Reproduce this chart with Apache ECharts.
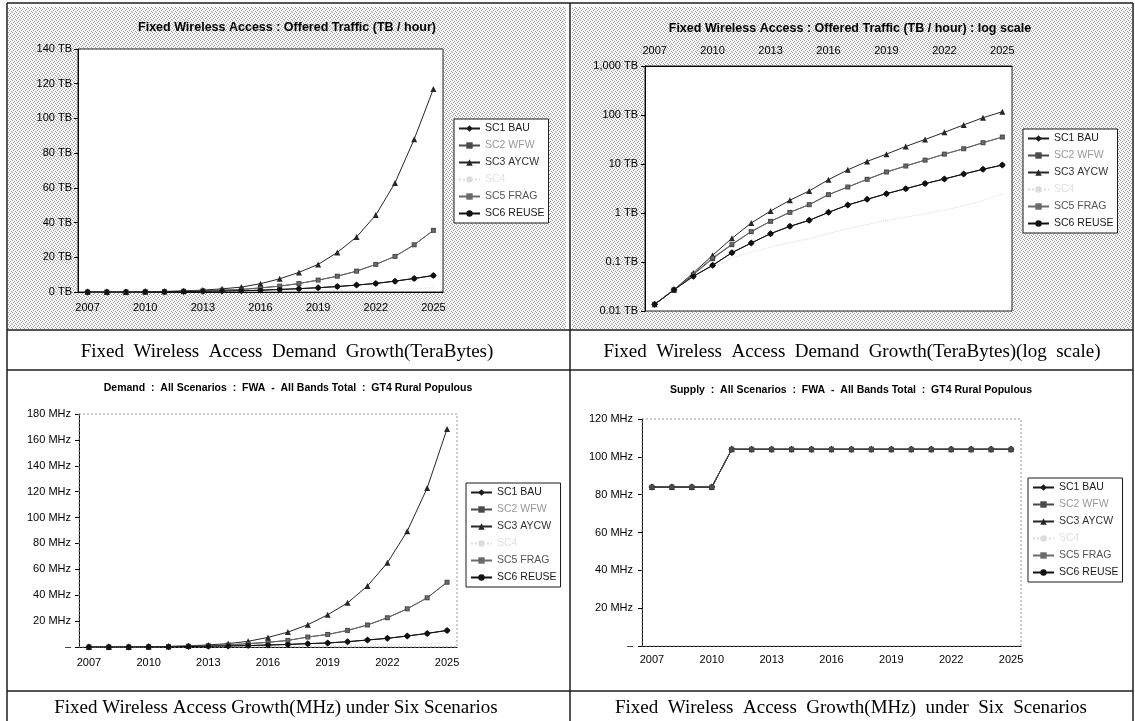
<!DOCTYPE html>
<html>
<head>
<meta charset="utf-8">
<script src="https://cdn.jsdelivr.net/npm/echarts@6/dist/echarts.min.js"></script>
<style>
  html, body { margin: 0; padding: 0; background: #fff; }
  #main { width: 1135px; height: 721px; }
</style>
</head>
<body>
<div id="main"></div>
<script>
// categories
var years = ['2007', '2008', '2009', '2010', '2011', '2012', '2013', '2014', '2015', '2016',
  '2017', '2018', '2019', '2020', '2021', '2022', '2023', '2024', '2025'];
var scenarios = ['SC1 BAU', 'SC2 WFW', 'SC3 AYCW', 'SC4', 'SC5 FRAG', 'SC6 REUSE'];

// offered traffic, TB / hour (top charts, linear and log)
var tbBAU   = [0.0137, 0.027, 0.051, 0.0855, 0.155, 0.244, 0.379, 0.535, 0.708, 1.03, 1.46, 1.9, 2.48, 3.14, 3.98, 4.95, 6.25, 7.8, 9.5];
var tbWFW   = [0.0137, 0.027, 0.055, 0.117, 0.226, 0.416, 0.676, 1.03, 1.48, 2.37, 3.39, 4.87, 6.87, 9.1, 12.0, 15.9, 20.5, 27.2, 35.5];
var tbAYCW  = [0.0137, 0.0272, 0.0597, 0.137, 0.304, 0.625, 1.10, 1.82, 2.82, 4.79, 7.6, 11.3, 15.9, 22.8, 31.7, 44.3, 62.8, 88, 117];
var tbSC4   = [0.0137, 0.027, 0.05, 0.08, 0.12, 0.16, 0.2, 0.25, 0.3, 0.38, 0.48, 0.58, 0.7, 0.82, 0.97, 1.15, 1.4, 1.8, 2.5];
var tbFRAG  = [0.0137, 0.027, 0.057, 0.122, 0.23, 0.42, 0.68, 1.03, 1.48, 2.37, 3.39, 4.87, 6.87, 9.1, 12.0, 15.9, 20.5, 27.2, 35.5];
var tbREUSE = [0.0137, 0.027, 0.051, 0.0855, 0.155, 0.244, 0.379, 0.535, 0.708, 1.03, 1.46, 1.9, 2.48, 3.14, 3.98, 4.95, 6.25, 7.8, 9.5];

// demand, MHz
var dmBAU   = [0.02, 0.04, 0.07, 0.12, 0.22, 0.35, 0.55, 0.8, 1.1, 1.5, 2.0, 2.6, 3.1, 4.1, 5.4, 6.7, 8.5, 10.5, 12.8];
var dmWFW   = [0.02, 0.04, 0.08, 0.17, 0.33, 0.6, 1.0, 1.6, 2.6, 3.6, 5.1, 7.7, 9.7, 12.8, 17, 22.6, 29.5, 38, 50];
var dmAYCW  = [0.02, 0.04, 0.09, 0.2, 0.45, 0.9, 1.6, 2.6, 4.4, 7.4, 11.5, 17.2, 24.9, 34.1, 47.2, 65, 89.5, 122.8, 168.5];
var dmSC4   = [0.02, 0.04, 0.06, 0.1, 0.15, 0.2, 0.3, 0.4, 0.5, 0.6, 0.75, 0.9, 1.0, 1.2, 1.4, 1.6, 1.9, 2.3, 3.3];
var dmFRAG  = [0.02, 0.04, 0.08, 0.17, 0.33, 0.6, 1.0, 1.6, 2.6, 3.6, 5.1, 7.7, 9.7, 12.8, 17, 22.6, 29.5, 38, 50];
var dmREUSE = [0.02, 0.04, 0.07, 0.12, 0.22, 0.35, 0.55, 0.8, 1.1, 1.5, 2.0, 2.6, 3.1, 4.1, 5.4, 6.7, 8.5, 10.5, 12.8];

// supply, MHz
var spBAU   = [84, 84, 84, 84, 104, 104, 104, 104, 104, 104, 104, 104, 104, 104, 104, 104, 104, 104, 104];
var spWFW   = [84, 84, 84, 84, 104, 104, 104, 104, 104, 104, 104, 104, 104, 104, 104, 104, 104, 104, 104];
var spAYCW  = [84, 84, 84, 84, 104, 104, 104, 104, 104, 104, 104, 104, 104, 104, 104, 104, 104, 104, 104];
var spSC4   = [84, 84, 84, 84, 104, 104, 104, 104, 104, 104, 104, 104, 104, 104, 104, 104, 104, 104, 104];
var spFRAG  = [84, 84, 84, 84, 104, 104, 104, 104, 104, 104, 104, 104, 104, 104, 104, 104, 104, 104, 104];
var spREUSE = [84, 84, 84, 84, 104, 104, 104, 104, 104, 104, 104, 104, 104, 104, 104, 104, 104, 104, 104];

var chart = echarts.init(document.getElementById('main'));

// stippled chart area fill, like the scanned Excel pattern
var dots = document.createElement('canvas');
dots.width = 4; dots.height = 4;
var g = dots.getContext('2d');
g.fillStyle = '#f5f5f5'; g.fillRect(0, 0, 4, 4);
g.fillStyle = '#9c9c9c';
g.fillRect(0, 0, 1, 1); g.fillRect(2, 1, 1, 1); g.fillRect(3, 3, 1, 1); g.fillRect(1, 2, 1, 1);
var dotFill = { image: dots, repeat: 'repeat' };

var sans = 'Liberation Sans';
var serif = 'Liberation Serif';

var look = {
  'SC1 BAU':   { line: '#1a1a1a', symbol: 'diamond',  size: 7, text: '#1a1a1a' },
  'SC2 WFW':   { line: '#4a4a4a', symbol: 'rect',     size: 5, text: '#9a9a9a' },
  'SC3 AYCW':  { line: '#262626', symbol: 'triangle', size: 6, text: '#333' },
  'SC4':       { line: '#dcdcdc', symbol: 'none',     size: 0, text: '#e2e2e2', dash: 'dotted' },
  'SC5 FRAG':  { line: '#6a6a6a', symbol: 'rect',     size: 3, text: '#555' },
  'SC6 REUSE': { line: '#111',    symbol: 'circle',   size: 5, text: '#1a1a1a' }
};

var panelData = [
  [tbBAU, tbWFW, tbAYCW, tbSC4, tbFRAG, tbREUSE],
  [tbBAU, tbWFW, tbAYCW, tbSC4, tbFRAG, tbREUSE],
  [dmBAU, dmWFW, dmAYCW, dmSC4, dmFRAG, dmREUSE],
  [spBAU, spWFW, spAYCW, spSC4, spFRAG, spREUSE]
];

var grids = [
  { left: 78,  top: 49,  width: 365, height: 243 },
  { left: 645, top: 66,  width: 367, height: 245 },
  { left: 79,  top: 414, width: 378, height: 233 },
  { left: 642, top: 419, width: 379, height: 227 }
];

var legendPos = [
  { left: 454,  top: 119 },
  { left: 1023, top: 129 },
  { left: 466,  top: 483 },
  { left: 1028, top: 478 }
];

var series = [];
panelData.forEach(function (set, p) {
  set.forEach(function (vals, k) {
    var name = scenarios[k];
    var s = look[name];
    series.push({
      name: name,
      type: 'line',
      xAxisIndex: p,
      yAxisIndex: p,
      data: vals,
      symbol: s.symbol,
      symbolSize: s.size,
      showSymbol: s.symbol !== 'none',
      z: (p === 3 && name === 'SC2 WFW') ? 5 : 2,
      lineStyle: { color: s.line, width: 1, type: s.dash || 'solid' },
      itemStyle: { color: s.line },
      emphasis: { disabled: true },
      animation: false
    });
  });
});

var xAxes = grids.map(function (gr, p) {
  var margins = [10, 10, 10, 8];
  return {
    type: 'category',
    gridIndex: p,
    data: years,
    position: p === 1 ? 'top' : 'bottom',
    boundaryGap: true,
    axisLine: { lineStyle: { color: '#000', width: 1 } },
    axisTick: { interval: 0, length: 4, lineStyle: { color: '#000' } },
    axisLabel: { interval: 2, margin: margins[p], fontSize: 11, color: '#000', fontFamily: sans },
    splitLine: { show: false }
  };
});

var mhz = function (v) { return v === 0 ? '\u2013' : v + ' MHz'; };
var yAxes = [
  { type: 'value', gridIndex: 0, min: 0, max: 140, interval: 20,
    axisLabel: { formatter: function (v) { return v + ' TB'; }, margin: 6 } },
  { type: 'log', gridIndex: 1, logBase: 10, min: 0.01, max: 1000,
    axisLabel: { formatter: function (v) {
      if (v >= 1000) return '1,000 TB';
      return (+v.toPrecision(2)) + ' TB';
    }, margin: 7 } },
  { type: 'value', gridIndex: 2, min: 0, max: 180, interval: 20,
    axisLabel: { formatter: mhz, margin: 8 } },
  { type: 'value', gridIndex: 3, min: 0, max: 120, interval: 20,
    axisLabel: { formatter: mhz, margin: 9 } }
].map(function (a) {
  a.axisLine = { show: true, lineStyle: { color: '#000', width: 1 } };
  a.axisTick = { show: true, length: 4, lineStyle: { color: '#000' } };
  a.minorTick = { show: false };
  a.splitLine = { show: false };
  a.axisLabel.fontSize = 11;
  a.axisLabel.color = '#000';
  a.axisLabel.fontFamily = sans;
  return a;
});

var titles = [
  { text: 'Fixed Wireless Access : Offered Traffic (TB / hour)', left: 287, top: 21, size: 12.5 },
  { text: 'Fixed Wireless Access : Offered Traffic (TB / hour) : log scale', left: 850, top: 22, size: 12.5 },
  { text: 'Demand  :  All Scenarios  :  FWA  -  All Bands Total  :  GT4 Rural Populous', left: 288, top: 383, size: 10.5 },
  { text: 'Supply  :  All Scenarios  :  FWA  -  All Bands Total  :  GT4 Rural Populous', left: 851, top: 385, size: 10.5 }
].map(function (t) {
  return {
    text: t.text, left: t.left, top: t.top,
    textAlign: 'center',
    padding: 0,
    textStyle: { fontSize: t.size, fontWeight: 'bold', color: '#000', fontFamily: sans }
  };
});

var legends = legendPos.map(function (pos) {
  return {
    left: pos.left,
    top: pos.top,
    orient: 'vertical',
    backgroundColor: '#fff',
    borderColor: '#1a1a1a',
    borderWidth: 1,
    borderRadius: 0,
    padding: [4, 4, 4, 4],
    itemGap: 6,
    itemWidth: 21,
    itemHeight: 8,
    selectedMode: false,
    data: scenarios.map(function (n) {
      return { name: n, textStyle: { color: look[n].text } };
    }),
    textStyle: { fontSize: 10.5, fontFamily: sans }
  };
});

var line = function (x1, y1, x2, y2) {
  return { type: 'line', z: 50, shape: { x1: x1, y1: y1, x2: x2, y2: y2 },
    style: { stroke: '#1e1e1e', lineWidth: 1.5 } };
};
var caption = function (x, y, txt) {
  return { type: 'text', z: 50, x: x, y: y,
    style: { text: txt, fill: '#000', font: '19px "' + serif + '"', textAlign: 'center', textVerticalAlign: 'middle' } };
};
var dashedFrame = function (gr) {
  return { type: 'rect', z: 1, shape: { x: gr.left, y: gr.top, width: gr.width, height: gr.height },
    style: { fill: null, stroke: '#9a9a9a', lineWidth: 1, lineDash: [2, 2] } };
};

var graphics = [
  { type: 'rect', z: -10, shape: { x: 8, y: 7, width: 558, height: 322 }, style: { fill: dotFill } },
  { type: 'rect', z: -10, shape: { x: 572, y: 7, width: 560, height: 322 }, style: { fill: dotFill } },
  dashedFrame(grids[2]),
  dashedFrame(grids[3]),
  line(7, 3, 1133, 3),
  line(7, 330, 1133, 330),
  line(7, 370, 1133, 370),
  line(7, 691, 1133, 691),
  line(7, 3, 7, 721),
  line(570, 3, 570, 721),
  line(1133, 3, 1133, 721),
  caption(287, 352, 'Fixed  Wireless  Access  Demand  Growth(TeraBytes)'),
  caption(852, 352, 'Fixed  Wireless  Access  Demand  Growth(TeraBytes)(log  scale)'),
  caption(276, 708, 'Fixed Wireless Access Growth(MHz) under Six Scenarios'),
  caption(851, 708, 'Fixed  Wireless  Access  Growth(MHz)  under  Six  Scenarios')
];

chart.setOption({
  animation: false,
  backgroundColor: '#fff',
  title: titles,
  legend: legends,
  grid: grids.map(function (gr, p) {
    return {
      left: gr.left, top: gr.top, width: gr.width, height: gr.height,
      show: true,
      backgroundColor: '#fff',
      borderColor: p < 2 ? '#222' : 'transparent',
      borderWidth: p < 2 ? 1 : 0
    };
  }),
  xAxis: xAxes,
  yAxis: yAxes,
  series: series,
  graphic: graphics
});
</script>
</body>
</html>
